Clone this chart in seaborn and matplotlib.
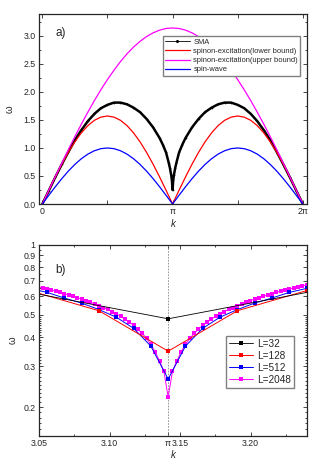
import numpy as np
import seaborn as sns
import matplotlib.pyplot as plt
from matplotlib.lines import Line2D
from matplotlib.ticker import FixedLocator, NullFormatter, MultipleLocator

sns.set_style("ticks")
plt.rcParams['font.family'] = ['Liberation Sans', 'DejaVu Sans']

# ---- panel a) : dispersion over 0..2pi (k in units of pi) ----
k_half = [0, 0.05, 0.1, 0.15, 0.2, 0.25, 0.3, 0.35, 0.4, 0.45, 0.5,
          0.55, 0.6, 0.65, 0.7, 0.75, 0.8, 0.85, 0.9, 0.95, 1.0]
spin_wave_half = [0, 0.156, 0.309, 0.454, 0.588, 0.707, 0.809, 0.891, 0.951, 0.988, 1.0,
                  0.988, 0.951, 0.891, 0.809, 0.707, 0.588, 0.454, 0.309, 0.156, 0]
lower_half = [0, 0.246, 0.485, 0.713, 0.923, 1.111, 1.271, 1.400, 1.494, 1.551, 1.571,
              1.551, 1.494, 1.400, 1.271, 1.111, 0.923, 0.713, 0.485, 0.246, 0]
upper_half = [0, 0.247, 0.491, 0.732, 0.971, 1.203, 1.427, 1.641, 1.847, 2.040, 2.221,
              2.388, 2.542, 2.680, 2.800, 2.902, 2.988, 3.054, 3.103, 3.133, 3.142]

k_sma_half = [0, 0.05, 0.1, 0.15, 0.2, 0.25, 0.3, 0.35, 0.4, 0.45, 0.5, 0.55, 0.6,
              0.65, 0.7, 0.75, 0.8, 0.85, 0.9, 0.925, 0.95, 0.97, 0.98, 0.99, 0.995, 1.0]
sma_half = [0, 0.24, 0.48, 0.71, 0.93, 1.14, 1.32, 1.48, 1.61, 1.71, 1.77, 1.81, 1.81,
            1.78, 1.72, 1.64, 1.52, 1.37, 1.18, 1.06, 0.92, 0.74, 0.64, 0.51, 0.42, 0.25]

# full range 0..2pi by mirror symmetry k -> 2pi - k
k_full = k_half + [2 - x for x in k_half[-2::-1]]
spin_wave = spin_wave_half + spin_wave_half[-2::-1]
lower = lower_half + lower_half[-2::-1]
upper = upper_half + upper_half[-2::-1]
k_sma = k_sma_half + [2 - x for x in k_sma_half[-2::-1]]
sma = sma_half + sma_half[-2::-1]

# ---- panel b) : SMA near k = pi for several L (momentum index n, k = pi + 2 pi n / L) ----
n_32 = [-1, 0, 1]
w_32 = [0.81, 0.48, 0.81]
n_128 = [-2, -1, 0, 1, 2]
w_128 = [0.635, 0.52, 0.348, 0.52, 0.635]
w_512_half = [0.264, 0.366, 0.437, 0.488, 0.526, 0.561, 0.590, 0.624, 0.649]
w_2048_half = [0.221, 0.285, 0.316, 0.346, 0.372, 0.395, 0.415, 0.433, 0.450, 0.465,
               0.479, 0.492, 0.504, 0.516, 0.527, 0.537, 0.547, 0.557, 0.566, 0.575,
               0.584, 0.592, 0.600, 0.608, 0.616, 0.624, 0.631, 0.638, 0.645, 0.652,
               0.659, 0.666, 0.672]

n_512 = list(range(-8, 9))
w_512 = w_512_half[:0:-1] + w_512_half
n_2048 = list(range(-30, 33))
w_2048 = w_2048_half[30:0:-1] + w_2048_half


def kvals(ns, L):
    return [np.pi + 2 * np.pi * n / L for n in ns]


fig = plt.figure(figsize=(3.32, 4.69), dpi=100)
ax1 = fig.add_axes([0.1175, 0.565, 0.807, 0.405])
ax2 = fig.add_axes([0.1175, 0.0704, 0.807, 0.4075])

# panel a
kp = np.pi
sns.lineplot(x=[x * kp for x in k_sma], y=sma, color="black", lw=1.8,
             marker="o", markersize=1.2, markeredgewidth=0, ax=ax1)
sns.lineplot(x=[x * kp for x in k_full], y=lower, color="#ff0000", lw=0.9, ax=ax1)
sns.lineplot(x=[x * kp for x in k_full], y=upper, color="#ff00ff", lw=0.9, ax=ax1)
sns.lineplot(x=[x * kp for x in k_full], y=spin_wave, color="#0000ff", lw=0.9, ax=ax1)

handles = [Line2D([], [], color="black", lw=0.6, marker="o", markersize=1.2),
           Line2D([], [], color="#ff0000", lw=0.9),
           Line2D([], [], color="#ff00ff", lw=0.9),
           Line2D([], [], color="#0000ff", lw=0.9)]
labels = ["SMA", "spinon-excitation(lower bound)",
          "spinon-excitation(upper bound)", "spin-wave"]
ax1.legend(handles, labels, loc="upper right", bbox_to_anchor=(0.975, 0.882),
           fontsize=5.4, frameon=True, fancybox=False, edgecolor="#808080",
           framealpha=1, labelspacing=0.25, handlelength=3.3, handletextpad=0.5,
           borderpad=0.3, borderaxespad=0)

ax1.set_xlim(-0.08, 2 * np.pi + 0.1)
ax1.set_ylim(0, 3.39)
ax1.set_xticks([0, np.pi / 2, np.pi, 3 * np.pi / 2, 2 * np.pi])
ax1.set_xticklabels(["0", "", "π", "", "2π"])
ax1.set_yticks([0, 0.5, 1.0, 1.5, 2.0, 2.5, 3.0])
ax1.set_yticklabels(["0.0", "0.5", "1.0", "1.5", "2.0", "2.5", "3.0"])
ax1.yaxis.set_minor_locator(MultipleLocator(0.25))
ax1.set_xlabel("k", fontsize=7, style="italic", labelpad=2)
ax1.set_ylabel("ω", fontsize=7, labelpad=6)
ax1.text(0.06, 0.9, "a)", transform=ax1.transAxes, fontsize=8.5, va="center")

# panel b
ax2.axvline(np.pi, color="#888888", ls=(0, (2, 1.5)), lw=0.6)
sns.lineplot(x=kvals(n_2048, 2048), y=w_2048, color="#ff00ff", lw=0.7,
             marker="s", markersize=2.4, markeredgewidth=0, label="L=2048", ax=ax2)
sns.lineplot(x=kvals(n_512, 512), y=w_512, color="#0000ff", lw=0.7,
             marker="s", markersize=2.2, markeredgewidth=0, label="L=512", ax=ax2)
sns.lineplot(x=kvals(n_128, 128), y=w_128, color="#ff0000", lw=0.7,
             marker="s", markersize=2.2, markeredgewidth=0, label="L=128", ax=ax2)
sns.lineplot(x=kvals(n_32, 32), y=w_32, color="black", lw=0.6,
             marker="s", markersize=2.2, markeredgewidth=0, label="L=32", ax=ax2)

h, l = ax2.get_legend_handles_labels()
order = [3, 2, 1, 0]
ax2.legend([h[i] for i in order], [l[i] for i in order], loc="upper left",
           bbox_to_anchor=(0.697, 0.524), fontsize=7.2, frameon=True, fancybox=False,
           edgecolor="#808080", framealpha=1, labelspacing=0.2, handlelength=2.4,
           handletextpad=0.4, borderpad=0.3, borderaxespad=0)

ax2.set_yscale("log")
ax2.set_xlim(3.05, 3.24)
ax2.set_ylim(0.15, 1.0)
ax2.set_xticks([3.05, 3.10, np.pi, 3.15, 3.20])
ax2.set_xticklabels(["3.05", "3.10", "π", "3.15", "3.20"])
ax2.xaxis.set_minor_locator(FixedLocator([3.075, 3.125, 3.175, 3.225]))
ymaj = [0.2, 0.3, 0.4, 0.5, 0.6, 0.7, 0.8, 0.9, 1.0]
ax2.yaxis.set_major_locator(FixedLocator(ymaj))
ax2.set_yticklabels(["0.2", "0.3", "0.4", "0.5", "0.6", "0.7", "0.8", "0.9", "1"])
yminor = [round(0.15 + 0.01 * i, 2) for i in range(36)] + [0.55, 0.65, 0.75, 0.85, 0.95]
ax2.yaxis.set_minor_locator(FixedLocator(yminor))
ax2.yaxis.set_minor_formatter(NullFormatter())
ax2.set_xlabel("k", fontsize=7, style="italic", labelpad=1)
ax2.set_ylabel("ω", fontsize=7, labelpad=4)
ax2.text(0.06, 0.87, "b)", transform=ax2.transAxes, fontsize=8.5, va="center")

for ax in (ax1, ax2):
    ax.tick_params(which="both", direction="in", top=True, right=True,
                   labelsize=6.3, width=0.6, pad=2.5)
    ax.tick_params(which="major", length=3)
    ax.tick_params(which="minor", length=1.6)
    for s in ax.spines.values():
        s.set_linewidth(0.9)

fig.savefig("out.png", dpi=100)
